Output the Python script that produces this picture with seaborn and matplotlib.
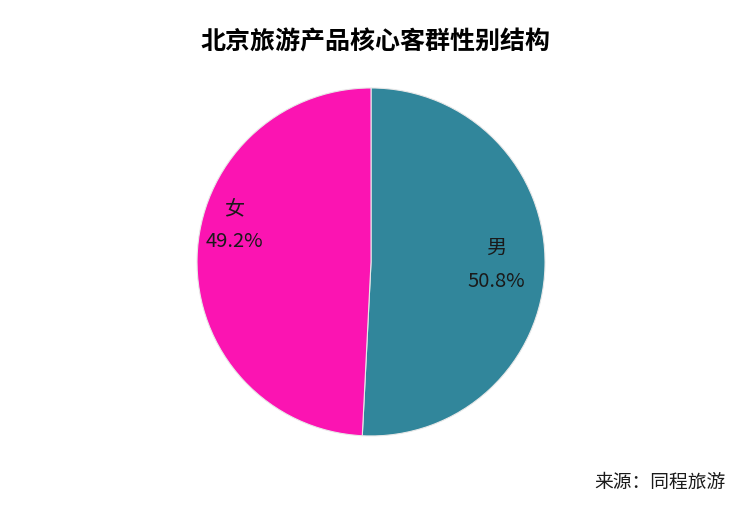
import matplotlib
matplotlib.use('Agg')
import matplotlib.pyplot as plt
import seaborn as sns

sns.set_theme(style='white')
plt.rcParams['font.family'] = ['Noto Sans CJK SC', 'DejaVu Sans']

labels = ['男', '女']
shares = [50.8, 49.2]
colors = ['#31869B', '#FB14B2']

fig = plt.figure(figsize=(7.5, 5.19), dpi=100)
ax = fig.add_axes([0.2627, 0.16, 0.464, 0.6705])

wedges, texts, autotexts = ax.pie(
    shares,
    labels=None,
    colors=colors,
    startangle=90,
    counterclock=False,
    autopct=lambda p: '',
    pctdistance=0.72,
    wedgeprops=dict(edgecolor='#e8e8e8', linewidth=0.8),
)

for lab, val, t in zip(labels, shares, autotexts):
    t.set_text(f'{lab}\n{val:.1f}%')
    t.set_fontsize(14.5)
    t.set_color('#1a1a1a')
    t.set_linespacing(1.75)

# nudge the 女 label up the way it sits in the original
x, y = autotexts[1].get_position()
autotexts[1].set_position((x - 0.067, y + 0.194))

ax.set_xlim(-1, 1)
ax.set_ylim(-1, 1)
ax.set_aspect('equal')
ax.axis('off')

fig.text(0.5, 0.919, '北京旅游产品核心客群性别结构', ha='center', va='center',
         fontsize=18, fontweight='heavy', color='black')
fig.text(0.967, 0.071, '来源：同程旅游', ha='right', va='center',
         fontsize=13.5, color='#1a1a1a')

fig.savefig('out.png', dpi=100, facecolor='white')
